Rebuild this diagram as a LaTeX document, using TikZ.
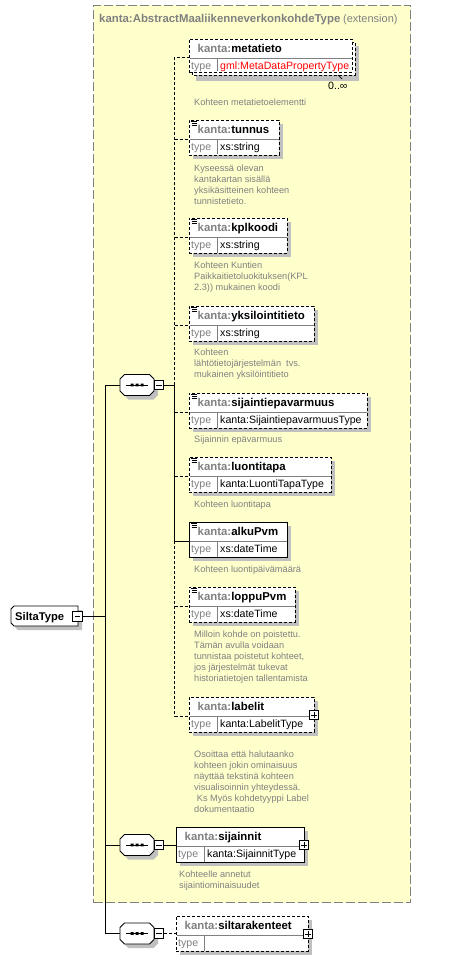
\documentclass[tikz,border=0pt]{standalone}
\usepackage{fontspec}
\setmainfont{Liberation Sans}
\usetikzlibrary{calc}
\definecolor{yel}{RGB}{255,255,204}
\definecolor{shd}{RGB}{192,192,192}
\definecolor{gtxt}{RGB}{128,128,128}
\definecolor{redt}{RGB}{255,0,0}
\tikzset{
  dsh/.style={dash pattern=on 3pt off 2pt},
  conn/.style={line width=0.9pt, black},
  ebox/.style={draw=black, line width=0.9pt, fill=white, inner sep=0pt, outer sep=0pt, anchor=north west, minimum height=35pt},
  sepl/.style={draw=gtxt, line width=0.8pt},
  nm/.style={inner sep=0pt, anchor=base west, font=\fontsize{11.4}{13}\selectfont\bfseries},
  tp/.style={inner sep=0pt, anchor=base west, font=\fontsize{10.6}{12}\selectfont},
  ds/.style={inner sep=0pt, anchor=north west, align=left, text=gtxt, font=\fontsize{9.2}{11}\selectfont},
  mbox/.style={draw=black, fill=white, line width=0.8pt, minimum size=9.5pt, inner sep=0pt, outer sep=0pt,
     path picture={\draw[line width=0.8pt] ([xshift=2pt]path picture bounding box.west) -- ([xshift=-2pt]path picture bounding box.east);}},
  pbox/.style={draw=black, fill=white, line width=0.8pt, minimum size=9.5pt, inner sep=0pt, outer sep=0pt,
     path picture={\draw[line width=0.8pt] ([xshift=2pt]path picture bounding box.west) -- ([xshift=-2pt]path picture bounding box.east) ([yshift=-2pt]path picture bounding box.north) -- ([yshift=2pt]path picture bounding box.south);}},
}
% element box: name, x, y, w, style, local name, type
\newcommand\elem[7]{%
  \node[ebox,#5,minimum width=#4pt] (#1) at (#2,#3) {};
  \draw[sepl] (#2+0.5,#3+19) -- (#2+#4-0.5,#3+19);
  \draw[sepl] (#2+28,#3+19) -- ($(#1.south west)+(28,-0.5)$);
  \node[nm] at (#2+8.5,#3+13.5) {\textcolor{gtxt}{kanta:}#6};
  \node[tp,text=gtxt] at (#2+2,#3+30.5) {type};
  \node[tp] at (#2+31,#3+30.5) {#7};
  \coordinate (#1-in) at ([yshift=-1.5pt]#1.west);
}
\newcommand\eshadow[3]{\fill[shd] (#1+4,#2+4) rectangle (#1+#3+4,#2+39);}
\newcommand\icon[1]{\draw[line width=0.8pt] ([shift={(2,1)}]#1.north west) -- ++(5.5,0) ([shift={(2.5,3)}]#1.north west) -- ++(5,0) ([shift={(2.5,5)}]#1.north west) -- ++(5,0);}
\newcommand\seqsym[3]{%
  \begin{scope}[shift={(#2+4,#3+4)}]
    \fill[shd] (-12.5,-10.5) -- (12.5,-10.5) -- (17,-6) -- (17,6) -- (12.5,10.5) -- (-12.5,10.5) -- (-17,6) -- (-17,-6) -- cycle;
  \end{scope}
  \node[inner sep=0pt, outer sep=0pt, minimum width=34pt, minimum height=21pt] (#1) at (#2,#3) {};
  \begin{scope}[shift={(#2,#3)}]
    \draw[line width=0.9pt, fill=white] (-12.5,-10.5) -- (12.5,-10.5) -- (17,-6) -- (17,6) -- (12.5,10.5) -- (-12.5,10.5) -- (-17,6) -- (-17,-6) -- cycle;
    \draw[line width=0.9pt] (-11,0) -- (11,0);
    \fill (-6.5,-1.3) rectangle (-3.5,1.3) (-1.5,-1.3) rectangle (1.5,1.3) (3.5,-1.3) rectangle (6.5,1.3);
  \end{scope}
  \node[mbox] (#1m) at (#2+22,#3) {};
}
\begin{document}
\begin{tikzpicture}[x=1pt,y=-1pt]
\useasboundingbox (0,0) rectangle (453,960);
% extension area
\node[draw=gtxt, fill=yel, line width=1pt, dash pattern=on 9pt off 3pt, inner sep=0pt, anchor=north west,
      minimum width=317pt, minimum height=897pt] (ext) at (93,5) {};
\node[inner sep=0pt, anchor=base west, text=gtxt] (title) at (99,23)
  {{\fontsize{11.4}{13}\selectfont\bfseries kanta:AbstractMaaliikenneverkonkohdeType} {\fontsize{11}{13}\selectfont(extension)}};

% SiltaType
\begin{scope}[shift={(4,4)}]
  \fill[shd] (14,606) -- (78,606) -- (78,626) -- (14,626) -- (11,623) -- (11,609) -- cycle;
\end{scope}
\draw[line width=0.9pt, fill=white] (14,606) -- (78,606) -- (78,626) -- (14,626) -- (11,623) -- (11,609) -- cycle;
\node[inner sep=0pt, outer sep=0pt, minimum width=67pt, minimum height=20pt, anchor=north west] (siltatype) at (11,606) {};
\node[inner sep=0pt, anchor=base west, font=\fontsize{11.2}{13}\selectfont\bfseries] (stname) at (15,620) {SiltaType};
\node[mbox] (stm) at (77.5,616.5) {};

% sequences
\seqsym{seq1}{137}{385}
\seqsym{seq2}{137}{845}
\seqsym{seq3}{137}{933.5}

% metatieto (multiple occurrences)
\fill[shd] (196,46) rectangle (359,81);
\draw[line width=0.9pt, dsh, fill=white] (192,42) rectangle (355,75);
\elem{metatieto}{189}{39}{163}{dsh,minimum height=33pt}{metatieto}{\textcolor{redt}{gml:MetaDataPropertyType}}
\node[tp] (occ) at (328,90) {0..∞};
\draw[line width=0.7pt] (338,75) -- (342,79);

\eshadow{189}{120}{90}
\elem{tunnus}{189}{120}{90}{dsh}{tunnus}{xs:string}
\icon{tunnus}
\eshadow{189}{218}{98}
\elem{kplkoodi}{189}{218}{98}{dsh}{kplkoodi}{xs:string}
\icon{kplkoodi}
\eshadow{189}{306}{125}
\elem{yksilointitieto}{189}{306}{125}{dsh}{yksilointitieto}{xs:string}
\icon{yksilointitieto}
\eshadow{189}{393}{178}
\elem{sijaintiepavarmuus}{189}{393}{178}{dsh}{sijaintiepavarmuus}{kanta:SijaintiepavarmuusType}
\icon{sijaintiepavarmuus}
\eshadow{189}{457}{142}
\elem{luontitapa}{189}{457}{142}{dsh}{luontitapa}{kanta:LuontiTapaType}
\icon{luontitapa}
\eshadow{189}{522}{98}
\elem{alkuPvm}{189}{522}{98}{solid}{alkuPvm}{xs:dateTime}
\icon{alkuPvm}
\eshadow{189}{587}{106}
\elem{loppuPvm}{189}{587}{106}{dsh}{loppuPvm}{xs:dateTime}
\icon{loppuPvm}
\eshadow{189}{697}{125}
\elem{labelit}{189}{697}{125}{dsh}{labelit}{kanta:LabelitType}
\node[pbox] (labelitp) at ([yshift=-0.5pt]labelit.east) {};
\eshadow{176}{827}{128}
\elem{sijainnit}{176}{827}{128}{solid}{sijainnit}{kanta:SijainnitType}
\node[pbox] (sijainnitp) at ([yshift=-0.5pt]sijainnit.east) {};
\eshadow{176}{916}{132}
\elem{siltarakenteet}{176}{916}{132}{dsh}{siltarakenteet}{}
\node[pbox] (siltarakenteetp) at ([yshift=-0.5pt]siltarakenteet.east) {};

% descriptions
\node[ds] (d1) at (194,99) {Kohteen metatietoelementti};
\node[ds] (d2) at (194,165) {Kyseessä olevan\\kantakartan sisällä\\yksikäsitteinen kohteen\\tunnistetieto.};
\node[ds] (d3) at (194,262) {Kohteen Kuntien\\Paikkaitietoluokituksen(KPL\\2.3)) mukainen koodi};
\node[ds] (d4) at (194,349) {Kohteen\\lähtötietojärjestelmän\ \ tvs.\\mukainen yksilöintitieto};
\node[ds] (d5) at (194,436) {Sijainnin epävarmuus};
\node[ds] (d6) at (194,500.5) {Kohteen luontitapa};
\node[ds] (d7) at (194,565.5) {Kohteen luontipäivämäärä};
\node[ds] (d8) at (194,631) {Milloin kohde on poistettu.\\Tämän avulla voidaan\\tunnistaa poistetut kohteet,\\jos järjestelmät tukevat\\historiatietojen tallentamista};
\node[ds] (d9) at (194,751) {Osoittaa että halutaanko\\kohteen jokin ominaisuus\\näyttää tekstinä kohteen\\visualisoinnin yhteydessä.\\\hspace*{2.7pt}Ks Myös kohdetyyppi Label\\dokumentaatio};
\node[ds] (d10) at (179,871) {Kohteelle annetut\\sijaintiominaisuudet};

% connectors
\coordinate (bus) at (174.5,385);
\coordinate (t1) at (105,385);
\coordinate (t3) at (105,933.5);
\draw[conn] (stm.east) -- (stm.east -| t1);
\draw[conn] (seq1.west) -- (t1) -- (t3) -- (seq3.west);
\draw[conn] (t1 |- seq2.west) -- (seq2.west);
\draw[conn] (seq1m.east) -- (bus);
\draw[conn,dsh] (bus) -- (bus |- metatieto-in) -- (metatieto-in);
\draw[conn] (bus) -- (bus |- alkuPvm-in) -- (alkuPvm-in);
\draw[conn,dsh] (bus |- alkuPvm-in) -- (bus |- labelit-in) -- (labelit-in);
\foreach \n in {tunnus,kplkoodi,yksilointitieto,sijaintiepavarmuus,luontitapa,loppuPvm}
  \draw[conn,dsh] (bus |- \n-in) -- (\n-in);
\draw[conn] (seq2m.east) -- (seq2m.east -| sijainnit.west);
\draw[conn,dsh] (seq3m.east) -- (seq3m.east -| siltarakenteet.west);
\end{tikzpicture}
\end{document}
